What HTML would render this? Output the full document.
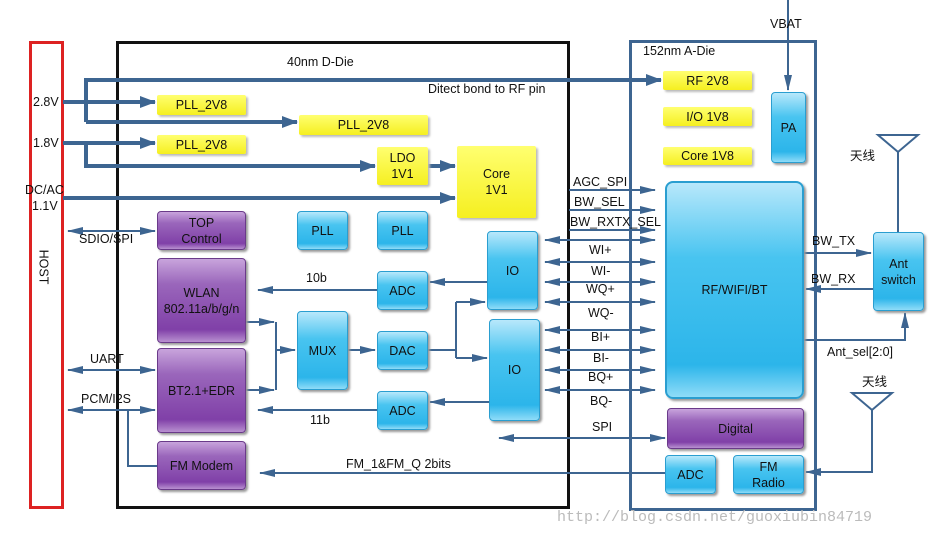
<!DOCTYPE html>
<html><head><meta charset="utf-8"><style>
body{margin:0;background:#fff;width:929px;height:539px;overflow:hidden;position:relative;font-family:"Liberation Sans","Noto Sans CJK SC",sans-serif;}
.b{position:absolute;box-sizing:border-box;display:flex;align-items:center;justify-content:center;text-align:center;font-size:12.5px;line-height:16px;color:#111;border-radius:4px;}
.y{background:linear-gradient(#ffff70,#f5ef20);box-shadow:2px 2px 2px #bbb;border-radius:2px;}
.c{background:linear-gradient(#b8e8fb 0%,#48c4f0 35%,#2cb5ea 85%,#8fdcf8 100%);border:1px solid #2a9ed0;box-shadow:2px 2px 2px #999;}
.p{background:linear-gradient(#c8a4dc 0%,#9a66bb 30%,#8040a8 85%,#b890d0 100%);border:1px solid #6a3a8a;box-shadow:2px 2px 2px #999;}
.t{position:absolute;font-size:12.5px;color:#111;white-space:nowrap;line-height:14px;}
</style></head><body>
<div style="position:absolute;left:29px;top:41px;width:35px;height:468px;border:3px solid #dd2222;box-sizing:border-box"></div>
<div class="t" style="left:26px;top:260px;transform:rotate(90deg);">HOST</div>
<div style="position:absolute;left:116px;top:41px;width:454px;height:468px;border:3px solid #111;box-sizing:border-box"></div>
<div style="position:absolute;left:629px;top:40px;width:188px;height:471px;border:3px solid #3d6591;box-sizing:border-box"></div>

<svg width="929" height="539" style="position:absolute;left:0;top:0">
<defs>
<marker id="A" markerWidth="16" markerHeight="12" refX="15" refY="6" orient="auto" markerUnits="userSpaceOnUse"><path d="M0,0 L16,6 L0,12z" fill="#3d6591"/></marker>
<marker id="s" markerWidth="16" markerHeight="8" refX="15" refY="4" orient="auto-start-reverse" markerUnits="userSpaceOnUse"><path d="M0,0 L16,4 L0,8z" fill="#3d6591"/></marker>
</defs>
<g stroke="#3d6591" fill="none">
<g stroke-width="4">
<path d="M63 102 H155" marker-end="url(#A)"/>
<path d="M86 122 V80 H661" marker-end="url(#A)"/>
<path d="M86 122 H297" marker-end="url(#A)"/>
<path d="M63 143 H155" marker-end="url(#A)"/>
<path d="M86 143 V166 H375" marker-end="url(#A)"/>
<path d="M428 166 H455" marker-end="url(#A)"/>
<path d="M63 198 H455" marker-end="url(#A)"/>
</g>
<g stroke-width="2">
<path d="M788 0 V90" marker-end="url(#s)"/>
<path d="M68 231 H155" marker-start="url(#s)" marker-end="url(#s)"/>
<path d="M68 370 H155" marker-start="url(#s)" marker-end="url(#s)"/>
<path d="M68 410 H155" marker-start="url(#s)" marker-end="url(#s)"/>
<path d="M128 410 V466 H157"/>
<path d="M377 290 H258" marker-end="url(#s)"/>
<path d="M377 410 H258" marker-end="url(#s)"/>
<path d="M246 322 H274" marker-end="url(#s)"/>
<path d="M246 390 H274" marker-end="url(#s)"/>
<path d="M276 322 V390"/>
<path d="M276 350 H295" marker-end="url(#s)"/>
<path d="M348 350 H375" marker-end="url(#s)"/>
<path d="M487 282 H430" marker-end="url(#s)"/>
<path d="M489 402 H430" marker-end="url(#s)"/>
<path d="M428 350 H456"/>
<path d="M456 302 V358"/>
<path d="M456 302 H485" marker-end="url(#s)"/>
<path d="M456 358 H487" marker-end="url(#s)"/>
<path d="M569 190 H655" marker-end="url(#s)"/>
<path d="M569 210 H655" marker-end="url(#s)"/>
<path d="M569 230 H655" marker-end="url(#s)"/>
<path d="M545 240 H655" marker-start="url(#s)" marker-end="url(#s)"/>
<path d="M545 262 H655" marker-start="url(#s)" marker-end="url(#s)"/>
<path d="M545 282 H655" marker-start="url(#s)" marker-end="url(#s)"/>
<path d="M545 302 H655" marker-start="url(#s)" marker-end="url(#s)"/>
<path d="M545 330 H655" marker-start="url(#s)" marker-end="url(#s)"/>
<path d="M545 350 H655" marker-start="url(#s)" marker-end="url(#s)"/>
<path d="M545 370 H655" marker-start="url(#s)" marker-end="url(#s)"/>
<path d="M545 390 H655" marker-start="url(#s)" marker-end="url(#s)"/>
<path d="M499 438 H665" marker-start="url(#s)" marker-end="url(#s)"/>
<path d="M665 473 H260" marker-end="url(#s)"/>
<path d="M804 253 H871" marker-end="url(#s)"/>
<path d="M873 289 H806" marker-end="url(#s)"/>
<path d="M804 340 H905 V313" marker-end="url(#s)"/>
<path d="M898 152 V232"/>
<path d="M878 135 H918 L898 152 Z"/>
<path d="M872 410 V472 H806" marker-end="url(#s)"/>
<path d="M852 393 H892 L872 410 Z"/>
</g>
</g>
</svg>

<div class="t" style="left:33px;top:95px">2.8V</div>
<div class="t" style="left:33px;top:136px">1.8V</div>
<div class="t" style="left:25px;top:183px">DC/AC</div>
<div class="t" style="left:32px;top:199px">1.1V</div>
<div class="t" style="left:79px;top:232px">SDIO/SPI</div>
<div class="t" style="left:90px;top:352px">UART</div>
<div class="t" style="left:81px;top:392px">PCM/I2S</div>
<div class="t" style="left:287px;top:55px">40nm D-Die</div>
<div class="t" style="left:428px;top:82px">Ditect bond to RF pin</div>
<div class="t" style="left:643px;top:44px">152nm A-Die</div>
<div class="t" style="left:770px;top:17px">VBAT</div>
<div class="t" style="left:306px;top:271px">10b</div>
<div class="t" style="left:310px;top:413px">11b</div>
<div class="t" style="left:346px;top:457px">FM_1&amp;FM_Q 2bits</div>
<div class="t" style="left:573px;top:175px">AGC_SPI</div>
<div class="t" style="left:574px;top:195px">BW_SEL</div>
<div class="t" style="left:570px;top:215px">BW_RXTX_SEL</div>
<div class="t" style="left:589px;top:243px">WI+</div>
<div class="t" style="left:591px;top:264px">WI-</div>
<div class="t" style="left:586px;top:282px">WQ+</div>
<div class="t" style="left:588px;top:306px">WQ-</div>
<div class="t" style="left:591px;top:330px">BI+</div>
<div class="t" style="left:593px;top:351px">BI-</div>
<div class="t" style="left:588px;top:370px">BQ+</div>
<div class="t" style="left:590px;top:394px">BQ-</div>
<div class="t" style="left:592px;top:420px">SPI</div>
<div class="t" style="left:812px;top:234px">BW_TX</div>
<div class="t" style="left:811px;top:272px">BW_RX</div>
<div class="t" style="left:827px;top:345px">Ant_sel[2:0]</div>
<div class="t" style="left:850px;top:149px">天线</div>
<div class="t" style="left:862px;top:375px">天线</div>
<div class="t" style="left:557px;top:511px;color:#bbb;font-family:'Liberation Mono',monospace;font-size:15px">http://blog.csdn.net/guoxiubin84719</div>

<div class="b y" style="left:157px;top:95px;width:89px;height:20px">PLL_2V8</div>
<div class="b y" style="left:299px;top:115px;width:129px;height:20px">PLL_2V8</div>
<div class="b y" style="left:157px;top:135px;width:89px;height:19px">PLL_2V8</div>
<div class="b y" style="left:377px;top:147px;width:51px;height:38px">LDO<br>1V1</div>
<div class="b y" style="left:457px;top:146px;width:79px;height:72px">Core<br>1V1</div>
<div class="b y" style="left:663px;top:71px;width:89px;height:19px">RF 2V8</div>
<div class="b y" style="left:663px;top:107px;width:89px;height:19px">I/O 1V8</div>
<div class="b y" style="left:663px;top:147px;width:89px;height:18px">Core 1V8</div>

<div class="b p" style="left:157px;top:211px;width:89px;height:39px">TOP<br>Control</div>
<div class="b p" style="left:157px;top:258px;width:89px;height:85px">WLAN<br>802.11a/b/g/n</div>
<div class="b p" style="left:157px;top:348px;width:89px;height:85px">BT2.1+EDR</div>
<div class="b p" style="left:157px;top:441px;width:89px;height:49px">FM Modem</div>
<div class="b p" style="left:667px;top:408px;width:137px;height:41px">Digital</div>

<div class="b c" style="left:297px;top:211px;width:51px;height:39px">PLL</div>
<div class="b c" style="left:377px;top:211px;width:51px;height:39px">PLL</div>
<div class="b c" style="left:377px;top:271px;width:51px;height:39px">ADC</div>
<div class="b c" style="left:297px;top:311px;width:51px;height:79px">MUX</div>
<div class="b c" style="left:377px;top:331px;width:51px;height:39px">DAC</div>
<div class="b c" style="left:377px;top:391px;width:51px;height:39px">ADC</div>
<div class="b c" style="left:487px;top:231px;width:51px;height:79px">IO</div>
<div class="b c" style="left:489px;top:319px;width:51px;height:102px">IO</div>
<div class="b c" style="left:665px;top:181px;width:139px;height:218px;border-radius:8px;border-width:2px">RF/WIFI/BT</div>
<div class="b c" style="left:771px;top:92px;width:35px;height:71px">PA</div>
<div class="b c" style="left:665px;top:455px;width:51px;height:39px">ADC</div>
<div class="b c" style="left:733px;top:455px;width:71px;height:39px">FM<br>Radio</div>
<div class="b c" style="left:873px;top:232px;width:51px;height:79px">Ant<br>switch</div>
</body></html>
